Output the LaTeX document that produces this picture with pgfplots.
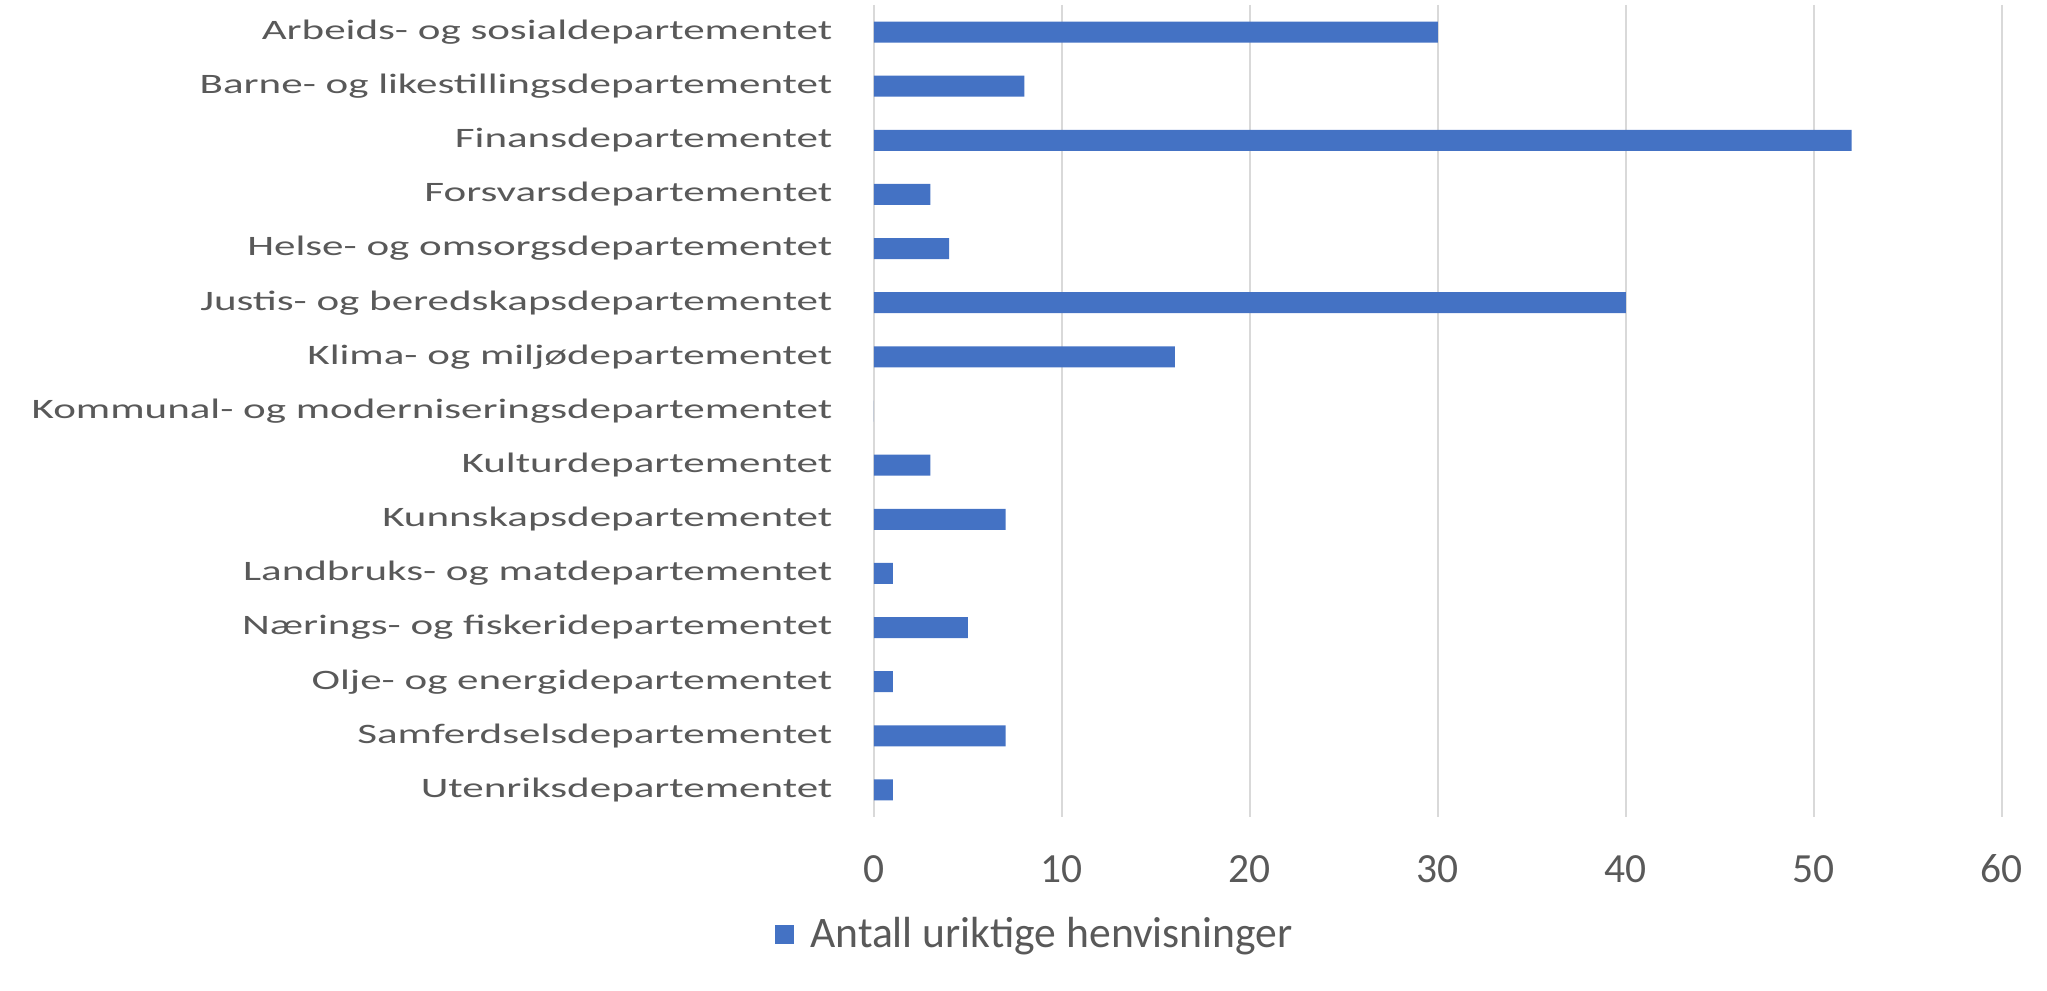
\documentclass[border=0pt]{standalone}
\usepackage{pgfplots}
\pgfplotsset{compat=1.18}
\usepackage{fontspec}
\setmainfont[FakeStretch=1.53]{Carlito}
\newfontfamily\plainfont{Carlito}
\definecolor{barblue}{HTML}{4472C4}
\definecolor{gridgray}{HTML}{D9D9D9}
\definecolor{textgray}{HTML}{595959}
\begin{document}
\begin{tikzpicture}
\useasboundingbox (-8.74cm,-1.74cm) rectangle (11.73cm,8.17cm);
\begin{axis}[
  at={(0,0)}, anchor=south west,
  scale only axis,
  width=11.28cm, height=8.12cm,
  xbar,
  bar width=0.21cm,
  y dir=reverse,
  xmin=0, xmax=60,
  xtick={0,10,...,60},
  ymin=-0.5, ymax=14.5,
  ytick={0,...,14},
  yticklabels={
    Arbeids- og sosialdepartementet,
    Barne- og likestillingsdepartementet,
    Finansdepartementet,
    Forsvarsdepartementet,
    Helse- og omsorgsdepartementet,
    Justis- og beredskapsdepartementet,
    Klima- og miljødepartementet,
    Kommunal- og moderniseringsdepartementet,
    Kulturdepartementet,
    Kunnskapsdepartementet,
    Landbruks- og matdepartementet,
    Nærings- og fiskeridepartementet,
    Olje- og energidepartementet,
    Samferdselsdepartementet,
    Utenriksdepartementet},
  axis line style={draw=none},
  major tick length=0pt,
  xmajorgrids,
  major grid style={gridgray, line width=0.7pt},
  /pgf/number format/assume math mode=true,
  yticklabel style={font=\fontsize{8}{9}\selectfont, text=textgray,
    anchor=east, inner sep=0pt, xshift=-0.41cm},
  xticklabel style={font=\plainfont\fontsize{11.8}{13}\selectfont, text=textgray,
    anchor=center, inner sep=0pt, yshift=-0.52cm},
  legend style={at={(0.145,-0.145)}, anchor=center, draw=none, fill=none,
    font=\plainfont\fontsize{12.4}{14}\selectfont, text=textgray,
    legend cell align=left},
  legend image code/.code={
    \fill[barblue] (0cm,-0.095cm) rectangle (0.19cm,0.095cm);
    \path (0.28cm,0cm);},
]
\addplot[fill=barblue, draw=none] coordinates {
  (30,0) (8,1) (52,2) (3,3) (4,4) (40,5) (16,6) (0,7)
  (3,8) (7,9) (1,10) (5,11) (1,12) (7,13) (1,14)
};
\addlegendentry{Antall uriktige henvisninger}
\end{axis}
\end{tikzpicture}
\end{document}
